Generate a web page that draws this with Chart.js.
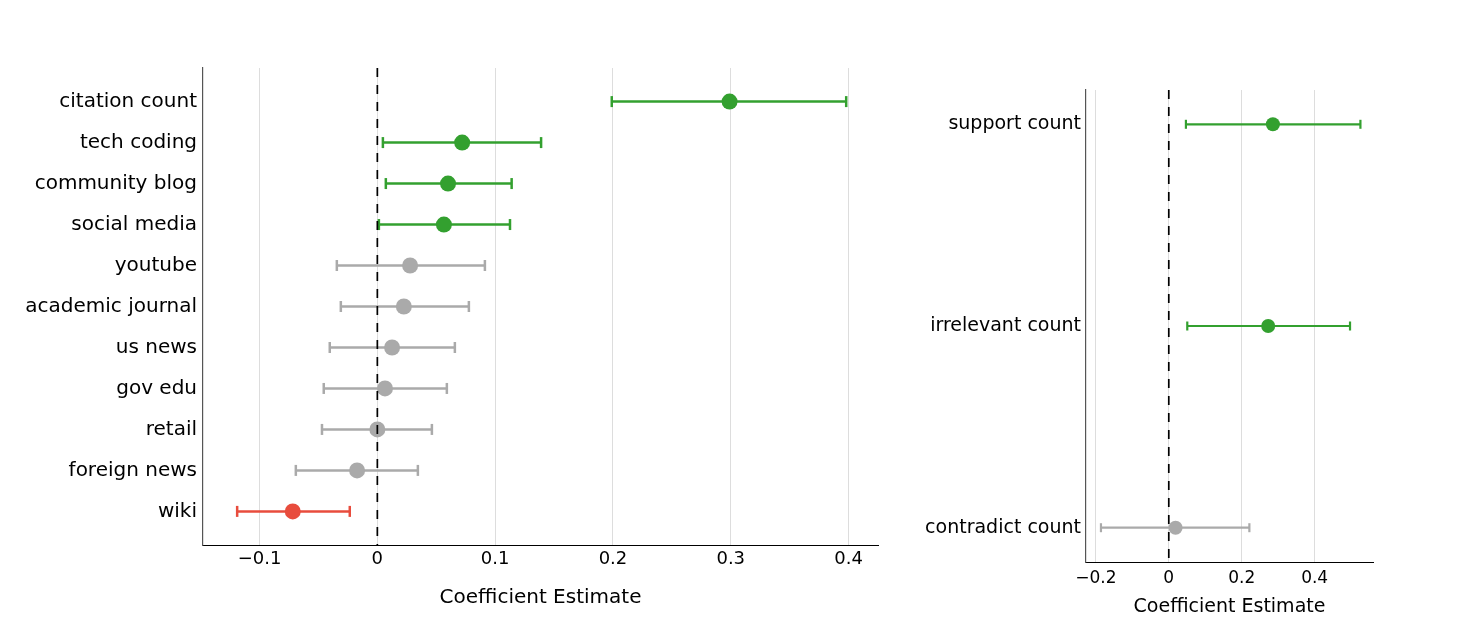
<!DOCTYPE html>
<html>
<head>
<meta charset="utf-8">
<script src="https://cdn.jsdelivr.net/npm/chart.js@4.4.1/dist/chart.umd.min.js"></script>
<style>
  html, body { margin: 0; padding: 0; background: #fff; }
  #wrap { position: relative; width: 1466px; height: 628px; }
  .box { position: absolute; top: 0; height: 628px; }
  #b1 { left: 0; width: 900px; }
  #b2 { left: 900px; width: 566px; }
</style>
</head>
<body>
<div id="wrap">
  <div class="box" id="b1"><canvas id="c1"></canvas></div>
  <div class="box" id="b2"><canvas id="c2"></canvas></div>
</div>
<script>
// ---- Left panel data ----
const leftCategories = ["citation count", "tech coding", "community blog", "social media", "youtube",
  "academic journal", "us news", "gov edu", "retail", "foreign news", "wiki"];
const leftEstimate = [0.299, 0.072, 0.060, 0.0565, 0.0278, 0.0225, 0.0125, 0.0065, 0.0, -0.0172, -0.0718];
const leftLower    = [0.199, 0.0047, 0.0072, 0.0013, -0.0344, -0.031, -0.0404, -0.0455, -0.047, -0.0692, -0.119];
const leftUpper    = [0.398, 0.139, 0.114, 0.1126, 0.0913, 0.0777, 0.0658, 0.059, 0.0463, 0.0344, -0.0234];
const leftTicks    = [-0.1, 0, 0.1, 0.2, 0.3, 0.4];

// ---- Right panel data ----
const rightCategories = ["support count", "irrelevant count", "contradict count"];
const rightEstimate = [0.2855, 0.2726, 0.0186];
const rightLower    = [0.047, 0.0507, -0.186];
const rightUpper    = [0.5255, 0.497, 0.221];
const rightTicks    = [-0.2, 0, 0.2, 0.4];

const axisTitle = "Coefficient Estimate";

const GREEN = "#33a02f", RED = "#e84c3d", GRAY = "#aaaaaa";
function colorFor(lo, hi) { return lo > 0 ? GREEN : (hi < 0 ? RED : GRAY); }
function fmt(v) { if (v === 0) return "0"; return (v < 0 ? "\u2212" : "") + String(Math.abs(v)); }

function makeChart(id, cats, est, lo, hi, ticks, o) {
  const colors = cats.map((_, i) => colorFor(lo[i], hi[i]));
  const n = cats.length;
  const datasets = [];
  // zero reference line
  datasets.push({
    type: 'line', data: [{x: 0, y: o.ymin}, {x: 0, y: o.ymax}],
    borderColor: '#000', borderWidth: 1.7, borderDash: [9, 8], pointRadius: 0, fill: false
  });
  // point estimates
  datasets.push({
    type: 'scatter', data: est.map((v, i) => ({x: v, y: i})),
    pointRadius: o.r, pointBackgroundColor: colors, pointBorderColor: colors, pointBorderWidth: 0,
    pointHoverRadius: o.r
  });
  // caps
  datasets.push({
    type: 'scatter',
    data: lo.map((v, i) => ({x: v, y: i})).concat(hi.map((v, i) => ({x: v, y: i}))),
    pointStyle: 'line', rotation: 90, pointRadius: o.cap, pointHoverRadius: o.cap,
    pointBorderColor: colors.concat(colors), pointBorderWidth: o.lw
  });
  // CI lines
  for (let i = 0; i < n; i++) {
    datasets.push({
      type: 'line', data: [{x: lo[i], y: i}, {x: hi[i], y: i}],
      borderColor: colors[i], borderWidth: o.lw, pointRadius: 0, fill: false
    });
  }
  return new Chart(document.getElementById(id), {
    type: 'scatter',
    data: { datasets },
    options: {
      responsive: true, maintainAspectRatio: false, animation: false,
      layout: { padding: { top: o.top, right: o.right, left: 0, bottom: 0 } },
      plugins: { legend: { display: false }, tooltip: { enabled: false } },
      scales: {
        x: {
          type: 'linear', min: o.xmin, max: o.xmax,
          afterBuildTicks: s => { s.ticks = ticks.map(v => ({value: v})); },
          afterFit: s => { s.height = o.xh; },
          grid: { color: '#dddddd', lineWidth: 1, drawTicks: false },
          border: { display: true, color: '#000', width: 1 },
          ticks: { callback: v => fmt(v), padding: o.tp, color: '#000',
                   font: { family: 'DejaVu Sans', size: o.tickSize }, maxRotation: 0 },
          title: { display: true, text: axisTitle, color: '#000',
                   font: { family: 'DejaVu Sans', size: o.titleSize }, padding: { top: 0, bottom: o.titlePad } }
        },
        y: {
          type: 'linear', reverse: true, min: o.ymin, max: o.ymax,
          afterBuildTicks: s => { s.ticks = cats.map((_, i) => ({value: i})); },
          afterFit: s => { s.width = o.yw; },
          grid: { display: false, drawTicks: false },
          border: { display: true, color: '#555', width: 1.2 },
          ticks: { callback: v => cats[v], padding: o.yp, color: '#000',
                   font: { family: 'DejaVu Sans', size: o.labelSize } }
        }
      }
    }
  });
}

makeChart('c1', leftCategories, leftEstimate, leftLower, leftUpper, leftTicks, {
  xmin: -0.148, xmax: 0.425, ymin: -0.82, ymax: 10.82,
  top: 68, right: 22, yw: 203, xh: 83, tp: 4, yp: 6,
  tickSize: 18, titleSize: 20, labelSize: 20, titlePad: 18,
  r: 8, cap: 5.5, lw: 2.5
});
makeChart('c2', rightCategories, rightEstimate, rightLower, rightUpper, rightTicks, {
  xmin: -0.227, xmax: 0.56, ymin: -0.17, ymax: 2.17,
  top: 90, right: 93, yw: 186, xh: 66, tp: 6, yp: 5,
  tickSize: 17, titleSize: 19, labelSize: 19, titlePad: 10,
  r: 7, cap: 4.5, lw: 2.2
});
</script>
</body>
</html>
